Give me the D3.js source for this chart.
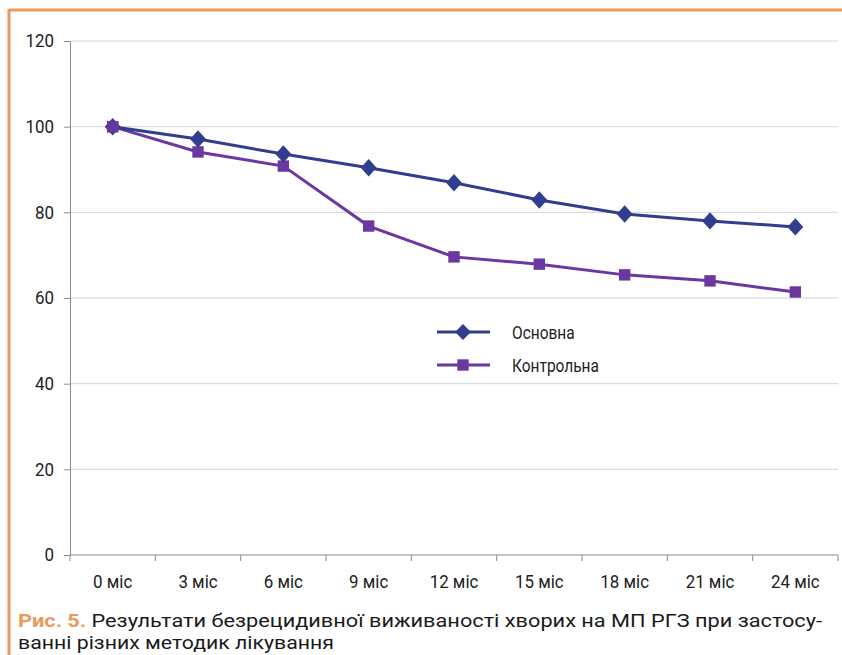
<!DOCTYPE html>
<html>
<head>
<meta charset="utf-8">
<script src="https://cdn.jsdelivr.net/npm/d3@7"></script>
<style>
  html, body { margin: 0; padding: 0; background: #fff; }
  svg { display: block; }
</style>
</head>
<body>
<svg id="chart" width="842" height="655"></svg>
<script>
// Survival periods (months) and relapse-free survival, %
const periods = ["0 міс", "3 міс", "6 міс", "9 міс", "12 міс", "15 міс", "18 міс", "21 міс", "24 міс"];
const mainGroup = [100, 97.1, 93.6, 90.4, 86.9, 82.9, 79.6, 78.0, 76.6];
const controlGroup = [100, 94.1, 90.8, 76.8, 69.6, 67.9, 65.4, 64.0, 61.4];
const seriesNames = ["Основна", "Контрольна"];
const yTicks = [0, 20, 40, 60, 80, 100, 120];

const blue = "#313d8f";
const purple = "#6a38a0";
const orange = "#ea9a5c";
const font = 'Roboto, "Noto Sans", "Liberation Sans", sans-serif';
const squeeze = 0.86;     // horizontal compression for legend text
const tickSqueeze = 0.94; // horizontal compression for tick labels

const svg = d3.select("#chart");

// Orange frame (top and left edges)
svg.append("line").attr("x1", 9).attr("x2", 842).attr("y1", 10).attr("y2", 10)
  .attr("stroke", orange).attr("stroke-width", 3);
svg.append("line").attr("x1", 9).attr("x2", 9).attr("y1", 9).attr("y2", 655)
  .attr("stroke", orange).attr("stroke-width", 3);

const plot = { left: 70, right: 838, top: 41, bottom: 555 };

const x = d3.scaleBand().domain(periods).range([plot.left, plot.right]).paddingInner(0).paddingOuter(0);
const y = d3.scaleLinear().domain([0, 120]).range([plot.bottom, plot.top]);

// Horizontal gridlines
svg.append("g").selectAll("line").data(yTicks.filter(d => d > 0)).join("line")
  .attr("x1", plot.left).attr("x2", plot.right)
  .attr("y1", d => y(d)).attr("y2", d => y(d))
  .attr("stroke", "#d4d4d4").attr("stroke-width", 1);

// Y axis
const yAxis = svg.append("g").attr("transform", `translate(${plot.left},0)`)
  .call(d3.axisLeft(y).tickValues(yTicks).tickSize(6).tickPadding(10));
yAxis.select(".domain").attr("stroke", "#8a8a8a");
yAxis.selectAll(".tick line").attr("stroke", "#8a8a8a");
yAxis.selectAll(".tick text")
  .attr("font-family", font).attr("font-size", 18).attr("fill", "#222")
  .attr("x", -16 / tickSqueeze).attr("transform", `scale(${tickSqueeze},1)`);

// X axis with ticks at category boundaries
const xAxis = svg.append("g").attr("transform", `translate(0,${plot.bottom})`)
  .call(d3.axisBottom(x).tickSize(0).tickPadding(20));
xAxis.select(".domain").remove();
xAxis.selectAll(".tick text")
  .attr("font-family", font).attr("font-size", 18).attr("fill", "#222")
  .attr("transform", `scale(${tickSqueeze},1)`);
svg.append("line").attr("x1", plot.left).attr("x2", plot.right)
  .attr("y1", plot.bottom).attr("y2", plot.bottom).attr("stroke", "#8a8a8a");
const bounds = periods.map(p => x(p)).concat([x(periods[periods.length - 1]) + x.bandwidth()]);
svg.append("g").selectAll("line").data(bounds).join("line")
  .attr("x1", d => d).attr("x2", d => d)
  .attr("y1", plot.bottom).attr("y2", plot.bottom + 6)
  .attr("stroke", "#8a8a8a");

const cx = i => x(periods[i]) + x.bandwidth() / 2;
const line = d3.line().x((d, i) => cx(i)).y(d => y(d));

const diamond = d3.symbol().type(d3.symbolDiamond2).size(160);
const square = d3.symbol().type(d3.symbolSquare).size(130);

// Control group
svg.append("path").datum(controlGroup).attr("d", line)
  .attr("fill", "none").attr("stroke", purple).attr("stroke-width", 3);
svg.append("g").selectAll("path").data(controlGroup).join("path")
  .attr("d", square).attr("transform", (d, i) => `translate(${cx(i)},${y(d)})`)
  .attr("fill", purple);

// Main group
svg.append("path").datum(mainGroup).attr("d", line)
  .attr("fill", "none").attr("stroke", blue).attr("stroke-width", 3);
svg.append("g").selectAll("path").data(mainGroup).join("path")
  .attr("d", diamond).attr("transform", (d, i) => `translate(${cx(i)},${y(d)}) scale(1,1.1)`)
  .attr("fill", blue);

// Shared starting point: purple square drawn over the blue diamond
svg.append("path").attr("d", square)
  .attr("transform", `translate(${cx(0)},${y(controlGroup[0])})`).attr("fill", purple).attr("opacity", 0.85);

// Legend
const legend = svg.append("g");
const legendItems = [
  { name: seriesNames[0], color: blue, sym: diamond },
  { name: seriesNames[1], color: purple, sym: square }
];
legendItems.forEach((it, k) => {
  const ly = 332 + k * 33;
  legend.append("line").attr("x1", 437).attr("x2", 490).attr("y1", ly).attr("y2", ly)
    .attr("stroke", it.color).attr("stroke-width", 3);
  legend.append("path").attr("d", it.sym).attr("transform", `translate(463,${ly})`).attr("fill", it.color);
  legend.append("text").attr("x", 512 / squeeze).attr("y", ly + 7)
    .attr("transform", `scale(${squeeze},1)`)
    .attr("font-family", font).attr("font-size", 18).attr("fill", "#222").text(it.name);
});

// Caption
const cap1 = svg.append("text").attr("x", 18).attr("y", 627)
  .attr("font-family", font).attr("font-size", 19).attr("fill", "#1a1a1a")
  .attr("textLength", 804).attr("lengthAdjust", "spacingAndGlyphs");
cap1.append("tspan").attr("fill", orange).attr("font-weight", "bold").text("Рис. 5.");
cap1.append("tspan").text(" Результати безрецидивної виживаності хворих на МП РГЗ при застосу-");
svg.append("text").attr("x", 18).attr("y", 649)
  .attr("font-family", font).attr("font-size", 19).attr("fill", "#1a1a1a")
  .attr("textLength", 316).attr("lengthAdjust", "spacingAndGlyphs")
  .text("ванні різних методик лікування");
</script>
</body>
</html>
